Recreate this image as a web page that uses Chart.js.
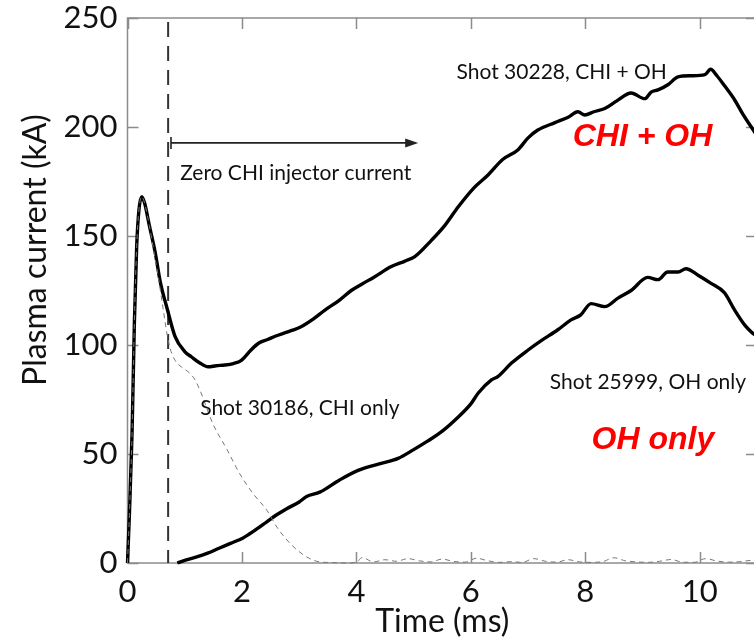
<!DOCTYPE html>
<html>
<head>
<meta charset="utf-8">
<script src="https://cdn.jsdelivr.net/npm/chart.js@4/dist/chart.umd.min.js"></script>
<style>
  html, body { margin: 0; padding: 0; background: #fff; overflow: hidden; }
  #wrap { width: 770px; height: 640px; }
</style>
</head>
<body>
<div id="wrap"><canvas id="plasmaChart"></canvas></div>
<script>
// Shot 30228, CHI + OH
const chiOhTime = [0.00, 0.03, 0.08, 0.12, 0.16, 0.20, 0.25, 0.30, 0.38, 0.48, 0.58, 0.69, 0.83, 1.00, 1.12, 1.25, 1.41, 1.55, 1.70, 1.85, 1.99,
  2.15, 2.29, 2.45, 2.58, 2.80, 3.04, 3.25, 3.45, 3.70, 3.91, 4.10, 4.30, 4.61, 4.85, 5.02, 5.31, 5.55, 5.78, 6.05, 6.30, 6.55,
  6.82, 7.00, 7.17, 7.47, 7.70, 7.87, 7.99, 8.15, 8.34, 8.55, 8.80, 9.04, 9.15, 9.27, 9.45, 9.62, 9.85, 10.09, 10.19, 10.30,
  10.43, 10.61, 10.75, 10.90, 11.00];
const chiOhCurrent = [0, 20, 60, 110, 145, 162, 168, 165, 155, 143, 128, 117, 104, 97, 94.5, 92, 90, 90.5, 90.8, 91.5, 93,
  97.5, 100.8, 102.5, 104, 106, 108.5, 112, 116, 120.5, 125, 128, 131, 136, 138.5, 140.5, 148, 155, 163.4, 172, 178, 185,
  189.5, 195, 198.6, 202, 204.5, 207, 205.5, 207, 208.5, 212, 215.6, 213, 216, 217, 219.5, 223, 223.5, 224, 226.5, 223.5,
  219, 212.4, 206, 200, 196];

// Shot 30186, CHI only
const chiOnlyTime = [0.00, 0.03, 0.08, 0.12, 0.16, 0.20, 0.25, 0.30, 0.38, 0.48, 0.54, 0.62, 0.72, 0.83, 0.94, 1.09, 1.18, 1.27, 1.49,
  1.74, 1.96, 2.19, 2.44, 2.61, 2.84, 3.13, 3.36, 3.60, 3.80, 4.00, 4.10, 4.30, 4.50, 4.70,
  4.90, 5.10, 5.30, 5.50, 5.70, 5.90, 6.10, 6.30, 6.50, 6.70, 6.90, 7.10, 7.30, 7.50, 7.70, 7.90, 8.10, 8.30, 8.50, 8.70,
  8.90, 9.10, 9.30, 9.50, 9.70, 9.90, 10.10, 10.30, 10.50, 10.70, 10.90, 11.00];
const chiOnlyCurrent = [0, 20, 60, 110, 145, 162, 168, 165, 155, 140, 131, 117, 101, 93, 90, 87, 84, 79, 64,
  52, 41, 32, 24, 16.5, 9, 2.8, 0.5, 0.2, 0, 0.3, 2.5, 0.5, 1.5, 0.8,
  2, 1, 0.5, 1.8, 0.7, 0.4, 2.2, 1, 0.3, 0.6, 0.3, 2, 0.8, 0.4, 1.5, 0.5, 0.3, 0.6, 2.4, 1,
  0.5, 0.3, 0.8, 1.6, 0.4, 0.3, 2, 0.9, 0.4, 0.6, 1.2, 0.5];

// Shot 25999, OH only
const ohOnlyTime = [0.87, 1.00, 1.21, 1.40, 1.61, 1.80, 2.02, 2.20, 2.44, 2.60, 2.79, 3.00, 3.13, 3.36, 3.70, 4.03, 4.40, 4.73, 5.00,
  5.25, 5.50, 5.78, 6.00, 6.13, 6.36, 6.47, 6.71, 7.00, 7.23, 7.52, 7.75, 7.92, 8.10, 8.34, 8.57, 8.80, 9.09, 9.27, 9.44,
  9.62, 9.76, 9.97, 10.19, 10.43, 10.61, 10.79, 10.90, 11.00];
const ohOnlyCurrent = [0, 1.2, 2.8, 4.5, 6.9, 9, 11.5, 14.5, 19, 22, 25, 28, 30.5, 32.5, 38, 42.5, 45.5, 48, 52,
  56, 60.5, 67, 73, 78, 84, 85.5, 91.7, 97.7, 102, 107, 111.5, 113.8, 119, 117.6, 121.5, 125, 131, 130, 133.5,
  133.5, 135, 132, 128.4, 124, 116, 109, 106, 104];

const xTickValues = [0, 2, 4, 6, 8, 10];
const yTickValues = [0, 50, 100, 150, 200, 250];

const chiStopTime = 0.71;

const notes = [
  { text: 'Shot 30228, CHI + OH', t: 5.75, kA: 225, align: 'left', font: '21px Lato', color: '#111' },
  { text: 'CHI + OH', t: 9.0, kA: 195.4, align: 'center', font: 'italic bold 32px "Liberation Sans"', color: '#f00' },
  { text: 'Zero CHI injector current', t: 0.92, kA: 179, align: 'left', font: '21px Lato', color: '#111' },
  { text: 'Shot 30186, CHI only', t: 1.27, kA: 71, align: 'left', font: '21px Lato', color: '#111' },
  { text: 'Shot 25999, OH only', t: 7.38, kA: 83, align: 'left', font: '21px Lato', color: '#111' },
  { text: 'OH only', t: 9.18, kA: 56.4, align: 'center', font: 'italic bold 32px "Liberation Sans"', color: '#f00' }
];

function pairs(xs, ys) {
  return xs.map((v, i) => ({ x: v, y: ys[i] }));
}

const frame = {
  id: 'frame',
  beforeDatasetsDraw(chart) {
    const { ctx, chartArea: a, scales: { x, y } } = chart;
    ctx.save();
    ctx.strokeStyle = '#8c8c8c';
    ctx.lineWidth = 1.5;
    ctx.strokeRect(a.left, a.top, a.width, a.height);
    ctx.beginPath();
    xTickValues.forEach(v => {
      const px = Math.round(x.getPixelForValue(v)) + 0.5;
      ctx.moveTo(px, a.bottom); ctx.lineTo(px, a.bottom - 11);
      ctx.moveTo(px, a.top); ctx.lineTo(px, a.top + 11);
    });
    yTickValues.forEach(v => {
      const py = Math.round(y.getPixelForValue(v)) + 0.5;
      ctx.moveTo(a.left, py); ctx.lineTo(a.left + 11, py);
      ctx.moveTo(a.right, py); ctx.lineTo(a.right - 11, py);
    });
    ctx.stroke();

    // CHI switch-off marker
    const sx = x.getPixelForValue(chiStopTime);
    ctx.strokeStyle = '#333';
    ctx.lineWidth = 2;
    ctx.setLineDash([15, 9]);
    ctx.beginPath();
    ctx.moveTo(sx, a.top + 4);
    ctx.lineTo(sx, a.bottom);
    ctx.stroke();
    ctx.restore();

    // y axis title
    ctx.save();
    ctx.translate(36, 250);
    ctx.rotate(-Math.PI / 2);
    ctx.font = '32px Lato';
    ctx.fillStyle = '#111';
    ctx.textAlign = 'center';
    ctx.textBaseline = 'middle';
    ctx.fillText('Plasma current (kA)', 0, 0);
    ctx.restore();
  },
  afterDatasetsDraw(chart) {
    const { ctx, scales: { x, y } } = chart;
    ctx.save();
    // arrow
    const ay = y.getPixelForValue(192.7);
    const ax0 = x.getPixelForValue(0.76);
    const ax1 = x.getPixelForValue(5.08);
    ctx.strokeStyle = '#222';
    ctx.fillStyle = '#222';
    ctx.lineWidth = 1.6;
    ctx.beginPath();
    ctx.moveTo(ax0, ay); ctx.lineTo(ax1 - 8, ay);
    ctx.moveTo(ax0, ay - 6); ctx.lineTo(ax0, ay + 6);
    ctx.stroke();
    ctx.beginPath();
    ctx.moveTo(ax1, ay); ctx.lineTo(ax1 - 13, ay - 4.5); ctx.lineTo(ax1 - 13, ay + 4.5);
    ctx.closePath();
    ctx.fill();

    ctx.textBaseline = 'middle';
    notes.forEach(n => {
      ctx.font = n.font;
      ctx.fillStyle = n.color;
      ctx.textAlign = n.align;
      ctx.fillText(n.text, x.getPixelForValue(n.t), y.getPixelForValue(n.kA));
    });
    ctx.restore();
  }
};

const ctx = document.getElementById('plasmaChart').getContext('2d');
new Chart(ctx, {
  type: 'line',
  data: {
    datasets: [{
      label: 'Shot 30186, CHI only',
      data: pairs(chiOnlyTime, chiOnlyCurrent),
      borderColor: '#777',
      borderWidth: 1,
      borderDash: [5, 4],
      pointRadius: 0,
      cubicInterpolationMode: 'monotone',
      clip: 5
    }, {
      label: 'Shot 30228, CHI + OH',
      data: pairs(chiOhTime, chiOhCurrent),
      borderColor: '#000',
      borderWidth: 3.4,
      pointRadius: 0,
      cubicInterpolationMode: 'monotone',
      clip: 5
    }, {
      label: 'Shot 25999, OH only',
      data: pairs(ohOnlyTime, ohOnlyCurrent),
      borderColor: '#000',
      borderWidth: 3.4,
      pointRadius: 0,
      cubicInterpolationMode: 'monotone',
      clip: 5
    }]
  },
  options: {
    responsive: true,
    maintainAspectRatio: false,
    animation: false,
    layout: { padding: { left: 0, right: 13, top: 18, bottom: 0 } },
    plugins: {
      legend: { display: false },
      tooltip: { enabled: false }
    },
    scales: {
      x: {
        type: 'linear',
        min: 0,
        max: 11,
        afterBuildTicks: s => { s.ticks = xTickValues.map(v => ({ value: v })); },
        afterFit: s => { s.height = 77; s.paddingLeft = 0; s.paddingRight = 0; },
        grid: { display: false, drawTicks: false },
        border: { display: false },
        ticks: { color: '#111', padding: 10, font: { family: 'Lato', size: 31 } },
        title: {
          display: true,
          text: 'Time (ms)',
          color: '#111',
          padding: { top: 0, bottom: 2 },
          font: { family: 'Lato', size: 32, lineHeight: 1 }
        }
      },
      y: {
        min: 0,
        max: 250,
        afterBuildTicks: s => { s.ticks = yTickValues.map(v => ({ value: v })); },
        afterFit: s => { s.width = 127.5; s.paddingTop = 0; s.paddingBottom = 0; },
        grid: { display: false, drawTicks: false },
        border: { display: false },
        ticks: { color: '#111', padding: 10, font: { family: 'Lato', size: 31 } }
      }
    }
  },
  plugins: [frame]
});
</script>
</body>
</html>
